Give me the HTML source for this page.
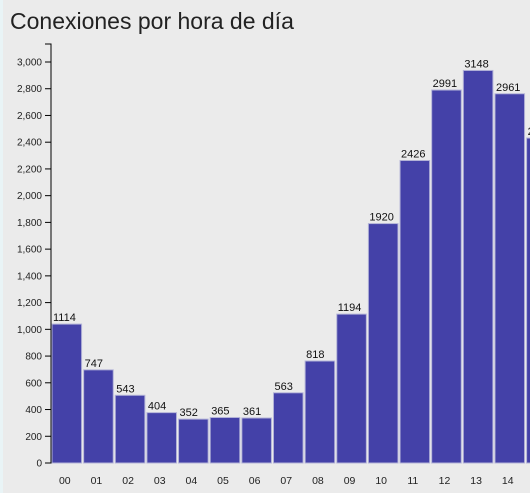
<!DOCTYPE html>
<html><head><meta charset="utf-8"><style>
html,body{margin:0;padding:0;width:530px;height:493px;overflow:hidden;background:#e9f4f6;}
#panel{position:absolute;left:3px;top:0;width:527px;height:493px;background:#ebebeb;}
svg{position:absolute;left:0;top:0;font-family:"Liberation Sans",sans-serif;}
</style></head><body>
<div id="panel"></div>
<svg id="chart" width="530" height="493">
<text x="10" y="29" font-size="23" fill="#222">Conexiones por hora de día</text>
</svg>
<script>
const hours = ["00","01","02","03","04","05","06","07","08","09","10","11","12","13","14","15"];
const counts = [1114,747,543,404,352,365,361,563,818,1194,1920,2426,2991,3148,2961,2606];
const tickValues = [0,200,400,600,800,1000,1200,1400,1600,1800,2000,2200,2400,2600,2800,3000];
const tickLabels = ["0","200","400","600","800","1,000","1,200","1,400","1,600","1,800","2,000","2,200","2,400","2,600","2,800","3,000"];

const NS="http://www.w3.org/2000/svg";
const svg=document.getElementById('chart');
const y0=463;
const yAxisScale=v=>y0-v*0.13367;
const yBarScale=v=>y0-v*0.1247;
const xScale=i=>52+i*31.64;
const bw=29.6;
function mk(tag,attrs){const e=document.createElementNS(NS,tag);for(const k in attrs)e.setAttribute(k,attrs[k]);svg.appendChild(e);return e;}

hours.forEach((h,i)=>{
  const x=xScale(i), y=yBarScale(counts[i]);
  const r=mk('rect',{x:x,y:y,width:bw,height:y0-y,fill:'#4441a8',stroke:'#b4b4d8','stroke-width':1});
  
  
  const t=mk('text',{x:x+1,y:y-3,'font-size':11,fill:'#111'});
  t.textContent=counts[i];
  
  
  const xl=mk('text',{x:x+bw/2-2,y:484,'font-size':10.5,fill:'#222','text-anchor':'middle'});
  xl.textContent=h;
  
  
});

const ax=mk('path',{d:'M45,44H51V463H45',fill:'none',stroke:'#000','stroke-width':1});


tickValues.forEach((v,i)=>{
  const y=yAxisScale(v);
  const l=mk('line',{x1:45,x2:51,y1:y,y2:y,stroke:'#000'});
  
  
  const t=mk('text',{x:42,y:y+3.5,'font-size':10,fill:'#222','text-anchor':'end'});
  t.textContent=tickLabels[i];
  
  
});
</script>
</body></html>
